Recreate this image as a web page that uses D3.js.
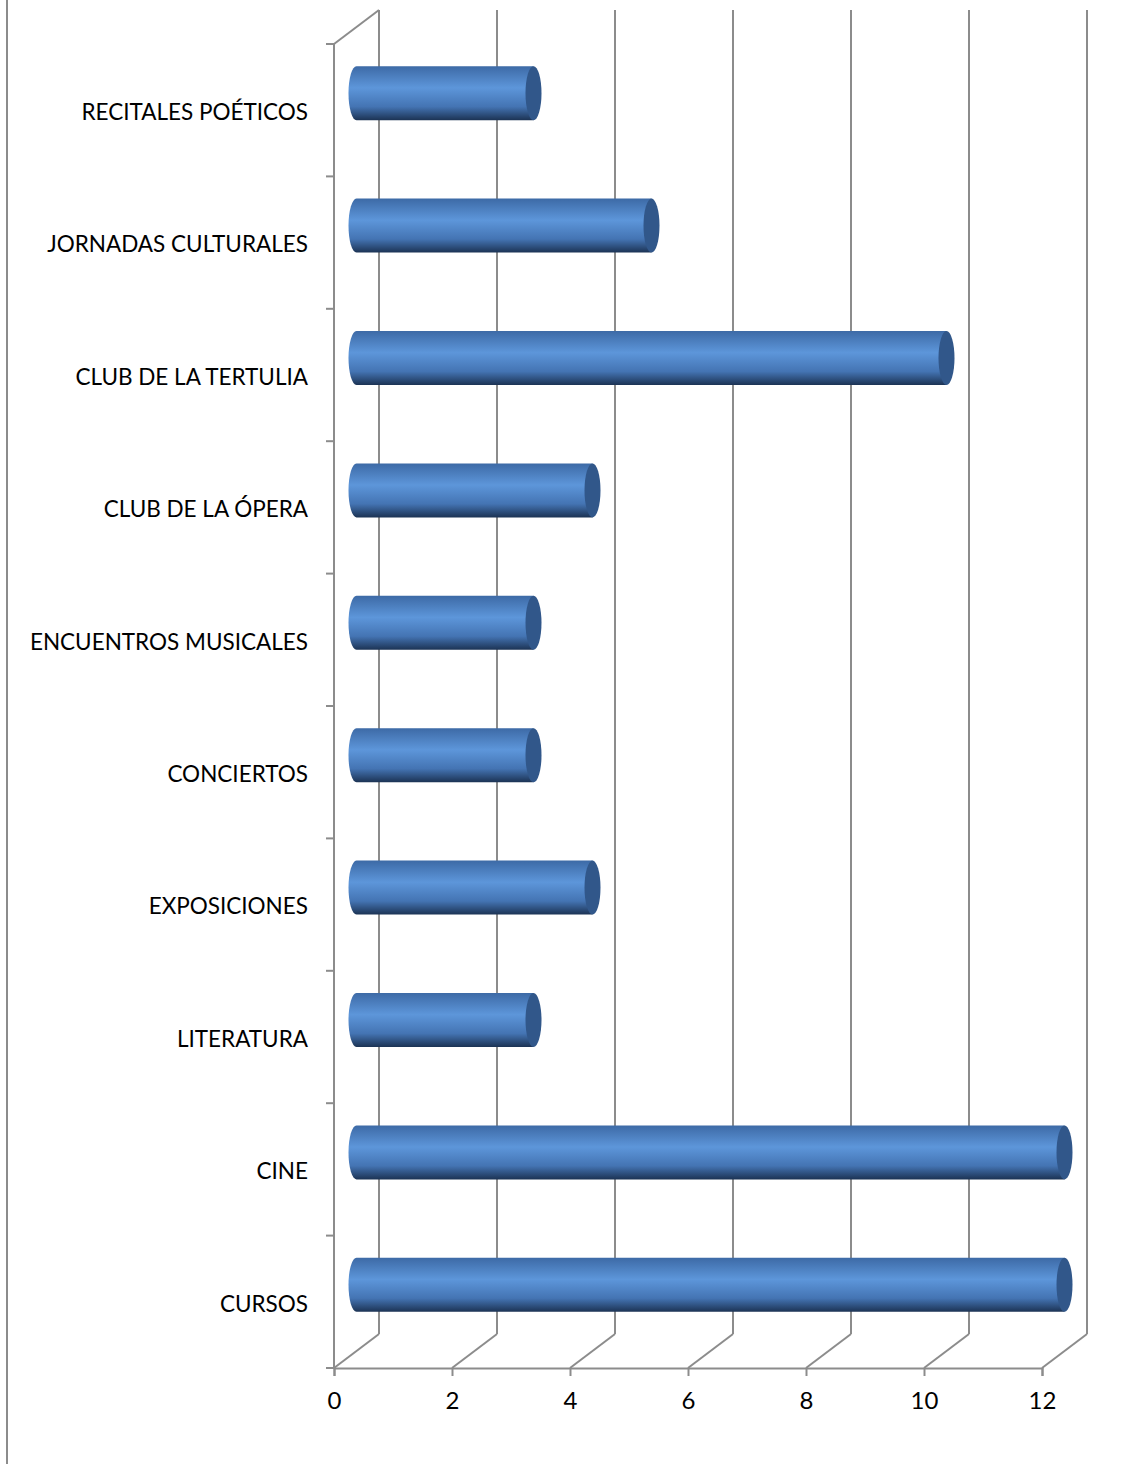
<!DOCTYPE html>
<html>
<head>
<meta charset="utf-8">
<script src="https://cdn.jsdelivr.net/npm/d3@7"></script>
<style>
  body { margin: 0; background: #fff; }
  #chartContainer { width: 1129px; height: 1464px; }
  text { font-family: Lato, "Open Sans", sans-serif; }
</style>
</head>
<body>
<div id="chartContainer"></div>
<script>
// Chart data
const categories = ["RECITALES POÉTICOS", "JORNADAS CULTURALES", "CLUB DE LA TERTULIA",
  "CLUB DE LA ÓPERA", "ENCUENTROS MUSICALES", "CONCIERTOS", "EXPOSICIONES",
  "LITERATURA", "CINE", "CURSOS"];
const values = [3, 5, 10, 4, 3, 3, 4, 3, 12, 12];
const xTicks = [0, 2, 4, 6, 8, 10, 12];

const width = 1129, height = 1464;
// 3D depth offset of the back wall
const depthX = 45, depthY = -34;
const gridColor = "#8c8c8c";

const x = d3.scaleLinear([0, 12], [334, 1042]);
const y = d3.scaleBand(categories, [44, 1368]);

const svg = d3.create("svg")
  .attr("width", width)
  .attr("height", height)
  .attr("viewBox", [0, 0, width, height]);

// gradient for the cylinders
const defs = svg.append("defs");
const grad = defs.append("linearGradient")
  .attr("id", "barGrad").attr("x1", 0).attr("y1", 0).attr("x2", 0).attr("y2", 1);
grad.append("stop").attr("offset", "0%").attr("stop-color", "#3d6aa6");
grad.append("stop").attr("offset", "40%").attr("stop-color", "#5d96da");
grad.append("stop").attr("offset", "75%").attr("stop-color", "#4474b3");
grad.append("stop").attr("offset", "100%").attr("stop-color", "#1c3354");

// outer frame line on the left
svg.append("line")
  .attr("x1", 7).attr("x2", 7).attr("y1", 0).attr("y2", height)
  .attr("stroke", gridColor).attr("stroke-width", 2);

const yTop = y.range()[0], yBot = y.range()[1];

// back wall gridlines + floor diagonals
const grid = svg.append("g").attr("stroke", gridColor).attr("stroke-width", 2).attr("fill", "none");
grid.selectAll(".back")
  .data(xTicks)
  .join("line")
  .attr("x1", d => x(d) + depthX).attr("x2", d => x(d) + depthX)
  .attr("y1", yTop + depthY).attr("y2", yBot + depthY);
grid.selectAll(".floor")
  .data(xTicks)
  .join("line")
  .attr("x1", d => x(d)).attr("y1", yBot)
  .attr("x2", d => x(d) + depthX).attr("y2", yBot + depthY);
// left side wall top diagonal
grid.append("line")
  .attr("x1", x(0)).attr("y1", yTop)
  .attr("x2", x(0) + depthX).attr("y2", yTop + depthY);

// front axes
svg.append("g")
  .attr("transform", `translate(0,${yBot})`)
  .call(d3.axisBottom(x).tickValues(xTicks).tickSize(8).tickPadding(16))
  .call(g => g.selectAll("line, path").attr("stroke", gridColor).attr("stroke-width", 2))
  .call(g => g.selectAll("text").style("font-size", "24px").attr("fill", "#000"));

const yAxis = svg.append("g").attr("transform", `translate(${x(0)},0)`);
yAxis.append("line")
  .attr("x1", 0).attr("x2", 0).attr("y1", yTop).attr("y2", yBot)
  .attr("stroke", gridColor).attr("stroke-width", 2);
yAxis.selectAll(".tk")
  .data(categories.concat([null]))
  .join("line")
  .attr("x1", -8).attr("x2", 0)
  .attr("y1", (d, i) => i < categories.length ? y(d) : yBot)
  .attr("y2", (d, i) => i < categories.length ? y(d) : yBot)
  .attr("stroke", gridColor).attr("stroke-width", 2);
yAxis.selectAll("text")
  .data(categories)
  .join("text")
  .attr("x", -26)
  .attr("y", d => y(d) + y.bandwidth() / 2 + 2)
  .attr("dy", "0.35em")
  .attr("text-anchor", "end")
  .style("font-size", "22.5px")
  .attr("fill", "#000")
  .text(d => d);

// cylinders
const ry = 27, rx = 8;
const bars = svg.append("g");
categories.forEach((c, i) => {
  const cy = y(c) + y.bandwidth() / 2 + depthY / 2;
  const x0 = x(0) + depthX / 2;
  const x1 = x(values[i]) + depthX / 2;
  const body = `M${x1},${cy - ry} L${x0},${cy - ry} A${rx},${ry} 0 0 0 ${x0},${cy + ry} L${x1},${cy + ry} Z`;
  bars.append("path")
    .attr("d", body)
    .attr("fill", "url(#barGrad)");
  bars.append("ellipse")
    .attr("cx", x1).attr("cy", cy)
    .attr("rx", rx).attr("ry", ry)
    .attr("fill", "#31578a");
});

document.getElementById("chartContainer").append(svg.node());
</script>
</body>
</html>
